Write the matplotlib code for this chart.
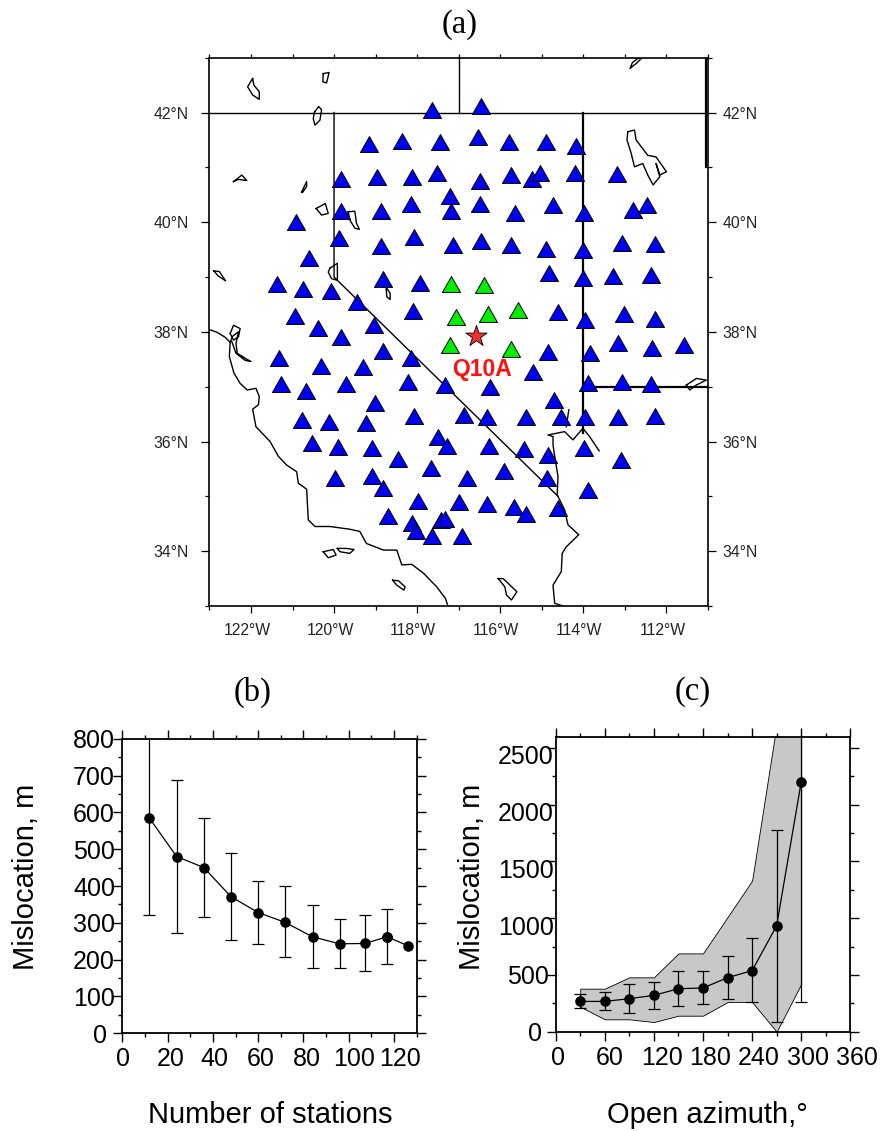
import matplotlib
matplotlib.use("Agg")
import matplotlib.pyplot as plt
from matplotlib.transforms import ScaledTranslation
from matplotlib.ticker import FixedLocator

plt.rcParams['font.family'] = ['Liberation Sans', 'DejaVu Sans']

# ---------- data: map ----------
blue_stations = [
 (-117.65,42.05),(-116.47,42.12),(-119.17,41.42),(-118.37,41.48),(-117.44,41.46),(-116.53,41.56),(-115.78,41.47),
 (-114.90,41.46),(-114.17,41.39),(-119.83,40.78),(-118.97,40.82),(-118.13,40.82),(-117.52,40.89),(-116.49,40.76),
 (-115.73,40.86),(-115.24,40.79),(-115.04,40.90),(-114.20,40.90),(-113.18,40.88),(-117.22,40.47),(-119.83,40.20),
 (-118.88,40.20),(-118.15,40.33),(-117.19,40.20),(-116.49,40.33),(-115.65,40.17),(-114.74,40.31),(-113.98,40.17),
 (-112.81,40.23),(-112.46,40.32),(-120.92,40.00),(-119.89,39.71),(-118.88,39.57),(-118.08,39.73),(-117.13,39.59),
 (-116.46,39.66),(-115.75,39.59),(-114.90,39.51),(-114.01,39.49),(-113.07,39.62),(-112.28,39.61),(-120.60,39.34),
 (-114.83,39.08),(-114.01,38.99),(-113.28,39.02),(-112.37,39.03),(-121.37,38.87),(-120.74,38.79),(-120.07,38.74),
 (-118.81,38.97),(-117.92,38.89),(-119.44,38.55),(-118.10,38.38),(-120.93,38.29),(-120.38,38.07),(-119.05,38.12),
 (-119.84,37.91),(-114.60,38.36),(-113.96,38.21),(-113.01,38.33),(-112.28,38.24),(-114.84,37.64),(-113.85,37.62),
 (-113.16,37.79),(-112.35,37.71),(-111.58,37.76),(-121.33,37.53),(-120.32,37.38),(-119.31,37.36),(-118.82,37.65),
 (-118.16,37.53),(-115.20,37.27),(-121.28,37.04),(-120.67,36.93),(-119.71,37.04),(-118.22,37.08),(-117.34,37.03),
 (-116.24,36.99),(-113.90,37.06),(-113.08,37.09),(-112.38,37.05),(-119.01,36.71),(-114.71,36.76),(-120.77,36.39),
 (-120.11,36.36),(-119.23,36.33),(-118.08,36.47),(-116.87,36.49),(-116.33,36.45),(-115.37,36.45),(-114.54,36.45),
 (-113.96,36.44),(-113.17,36.45),(-112.28,36.46),(-120.54,35.97),(-119.90,35.90),(-119.08,35.88),(-118.46,35.69),
 (-117.49,36.09),(-117.28,35.91),(-116.26,35.92),(-115.42,35.86),(-114.85,35.76),(-113.98,35.88),(-113.09,35.66),
 (-119.98,35.34),(-119.09,35.38),(-118.82,35.16),(-117.67,35.51),(-116.80,35.33),(-115.91,35.46),(-114.87,35.33),
 (-113.88,35.12),(-117.98,34.91),(-116.99,34.90),(-116.33,34.86),(-115.66,34.81),(-115.38,34.67),(-114.61,34.79),
 (-118.71,34.64),(-118.12,34.51),(-118.02,34.37),(-117.65,34.27),(-117.42,34.56),(-117.32,34.58),(-116.91,34.28),
]
green_stations = [(-117.18,38.87),(-116.39,38.86),(-117.07,38.27),(-116.29,38.33),(-115.57,38.39),(-117.21,37.76),(-115.73,37.68)]
event_lon, event_lat = -116.58, 37.92
event_name = "Q10A"

border_thin = [
 [(-123,42),(-111,42)],
 [(-117,43),(-117,42)],
 [(-120,42),(-120,39),(-114.61,35.0)],
]
border_thick = [
 [(-114,42),(-114,36.15)],
 [(-114,37),(-111,37)],
 [(-111.05,43),(-111.05,41)],
]
coast = [(-122.99,38.04),(-122.81,37.99),(-122.62,37.90),(-122.50,37.81),(-122.52,37.55),(-122.41,37.25),(-122.26,37.06),
 (-122.09,36.94),(-121.88,36.97),(-121.80,36.82),(-121.82,36.67),(-121.96,36.59),(-121.88,36.27),(-121.54,36.00),
 (-121.34,35.73),(-121.14,35.57),(-120.90,35.45),(-120.86,35.24),(-120.66,35.13),(-120.62,34.57),(-120.46,34.45),
 (-120.10,34.45),(-119.62,34.40),(-119.38,34.36),(-119.22,34.14),(-118.81,34.02),(-118.49,34.02),(-118.37,33.75),
 (-118.13,33.76),(-117.85,33.60),(-117.53,33.35),(-117.32,33.14),(-117.26,33.00)]
bay = [(-122.50,37.81),(-122.44,37.92),(-122.30,38.00),(-122.36,37.79),(-122.33,37.61),(-122.10,37.50),(-122.00,37.46),
 (-122.14,37.48),(-122.36,37.61),(-122.46,37.82)]
river = [(-114.49,33.00),(-114.69,33.05),(-114.73,33.38),(-114.53,33.63),(-114.51,33.96),(-114.41,34.08),(-114.11,34.30),
 (-114.37,34.48),(-114.45,34.75),(-114.63,35.03),(-114.61,35.36),(-114.69,35.73),(-114.73,35.94),(-114.73,36.09),
 (-114.85,36.12),(-114.45,36.18),(-114.25,36.03),(-114.01,36.24),(-113.85,36.09),(-113.62,35.83)]
river_arm = [(-114.41,36.27),(-114.35,36.58)]
lakes = [
 [(-112.93,41.65),(-112.77,41.68),(-112.73,41.50),(-112.45,41.22),(-112.25,41.19),(-112.00,40.92),(-112.16,40.86),(-112.25,41.07),
  (-112.16,40.83),(-112.32,40.68),(-112.45,40.86),(-112.57,41.07),(-112.77,41.01),(-112.85,41.26),(-112.95,41.50),(-112.93,41.65)],
 [(-112.87,42.81),(-112.72,42.90),(-112.60,42.99),(-112.68,42.99),(-112.82,42.91),(-112.87,42.81)],
 [(-121.96,42.62),(-121.93,42.50),(-121.80,42.38),(-121.80,42.24),(-121.96,42.32),(-122.08,42.47),(-121.96,42.62)],
 [(-120.26,42.71),(-120.12,42.73),(-120.18,42.54),(-120.27,42.56),(-120.26,42.71)],
 [(-120.47,42.01),(-120.37,42.11),(-120.30,42.05),(-120.34,41.86),(-120.46,41.77),(-120.50,41.89),(-120.47,42.01)],
 [(-122.42,40.74),(-122.22,40.86),(-122.10,40.76),(-122.30,40.78),(-122.42,40.74)],
 [(-120.78,40.55),(-120.66,40.74),(-120.66,40.65),(-120.76,40.54),(-120.78,40.55)],
 [(-120.43,40.25),(-120.21,40.34),(-120.14,40.16),(-120.30,40.13),(-120.43,40.25)],
 [(-119.66,40.19),(-119.50,40.20),(-119.46,39.98),(-119.39,39.87),(-119.50,39.89),(-119.62,40.04),(-119.66,40.19)],
 [(-122.89,39.11),(-122.76,39.10),(-122.61,38.93),(-122.79,39.02),(-122.89,39.11)],
 [(-120.10,39.16),(-119.92,39.25),(-119.92,38.94),(-120.06,38.97),(-120.14,39.09),(-120.10,39.16)],
 [(-118.75,38.82),(-118.65,38.70),(-118.65,38.59),(-118.73,38.64),(-118.75,38.82)],
 [(-122.50,37.97),(-122.42,38.12),(-122.26,38.06),(-122.30,37.91),(-122.42,37.85),(-122.50,37.97)],
 [(-120.26,33.99),(-120.02,34.03),(-119.95,33.93),(-120.14,33.88),(-120.26,33.99)],
 [(-119.92,34.05),(-119.70,34.05),(-119.52,34.03),(-119.62,33.96),(-119.86,33.99),(-119.92,34.05)],
 [(-118.59,33.47),(-118.45,33.46),(-118.29,33.35),(-118.32,33.29),(-118.49,33.38),(-118.59,33.47)],
 [(-116.05,33.50),(-115.93,33.50),(-115.60,33.26),(-115.73,33.11),(-115.85,33.20),(-115.89,33.35),(-116.05,33.50)],
 [(-111.52,37.03),(-111.28,37.15),(-111.04,37.12),(-111.28,37.03),(-111.44,36.94),(-111.52,37.03)],
]
lon_major = [-122,-120,-118,-116,-114,-112]
lon_labels = ["122°W","120°W","118°W","116°W","114°W","112°W"]
lon_minor = [-123,-121,-119,-117,-115,-113,-111]
lat_major = [34,36,38,40,42]
lat_labels = ["34°N","36°N","38°N","40°N","42°N"]
lat_minor = [33,35,37,39,41,43]

# ---------- data: panel b ----------
b_x = [12,24,36,48,60,72,84,96,107,117,126]
b_y = [584,480,450,371,328,301,262,243,244,262,238]
b_hi = [850,688,586,489,413,399,348,310,320,338,238]
b_lo = [321,273,317,254,243,206,176,176,168,188,238]
b_xticks = [0,20,40,60,80,100,120]
b_yticks = [0,100,200,300,400,500,600,700,800]

# ---------- data: panel c ----------
c_x = [30,60,90,120,150,180,210,240,270,300]
c_y = [267,267,291,320,379,385,476,538,934,2200]
c_hi = [329,350,417,441,532,532,664,823,1780,3000]
c_lo = [209,188,167,200,226,241,291,258,88,261]
c_band_hi = [379,379,479,479,690,690,1010,1331,2708,3400]
c_band_lo = [220,109,109,85,141,141,261,261,0,420]
c_xticks = [0,60,120,180,240,300,360]
c_yticks = [0,500,1000,1500,2000,2500]

W, H = 881, 1131
fig = plt.figure(figsize=(W/100, H/100), dpi=100, facecolor='white')

def axes_px(l, t, r, b):
    return fig.add_axes([l/W, 1-b/H, (r-l)/W, (b-t)/H])

def shift(label, dx_px, dy_px):
    label.set_transform(label.get_transform() +
                        ScaledTranslation(dx_px/100, dy_px/100, fig.dpi_scale_trans))

SERIF = ['Liberation Serif', 'DejaVu Serif']
fig.text(460/W, 1-25/H, "(a)", family=SERIF, fontsize=23.5, ha='center', va='center')
fig.text(253/W, 1-692/H, "(b)", family=SERIF, fontsize=23.5, ha='center', va='center')
fig.text(693/W, 1-692/H, "(c)", family=SERIF, fontsize=23.5, ha='center', va='center')

# ---------- map ----------
ax = axes_px(209.4, 57.7, 708, 606)
ax.set_xlim(-123, -111); ax.set_ylim(33, 43)
for s in ax.spines.values():
    s.set_linewidth(1.2)

def poly(pts, lw, z=2):
    xs, ys = zip(*pts)
    ax.plot(xs, ys, color='black', lw=lw, zorder=z, solid_joinstyle='round')

for seg in border_thin:  poly(seg, 1.0)
for seg in border_thick: poly(seg, 1.6)
for seg in [coast, bay, river, river_arm] + lakes: poly(seg, 1.0)

tri = [(-1,-0.88),(1,-0.88),(0,0.88),(-1,-0.88)]
bx, by = zip(*blue_stations)
gx, gy = zip(*green_stations)
ax.scatter(bx, by, marker=tri, s=13.0**2, c='#0000f0', edgecolors='black', linewidths=0.7, zorder=3)
ax.scatter(gx, gy, marker=tri, s=13.0**2, c='#00f000', edgecolors='black', linewidths=0.7, zorder=3)
ax.scatter([event_lon], [event_lat], marker='*', s=16**2, c='#f03030', edgecolors='black', linewidths=0.6, zorder=4)
ax.text(-116.45, 37.32, event_name, color='#ff1010', fontsize=16.5, fontweight='bold', ha='center', va='center', zorder=5)

ax.set_xticks(lon_major, lon_labels)
ax.set_yticks(lat_major, lat_labels)
ax.xaxis.set_minor_locator(FixedLocator(lon_minor))
ax.yaxis.set_minor_locator(FixedLocator(lat_minor))
ax.tick_params(axis='x', which='major', top=True, length=5, width=0.9, labelsize=11.3, labelcolor='#222222', pad=7.5)
ax.tick_params(axis='x', which='minor', top=True, length=2.6, width=0.9)
ax.tick_params(axis='y', which='major', right=True, labelright=True, length=6, width=0.9, labelsize=11.3, labelcolor='#222222', pad=4.5)
ax.tick_params(axis='y', which='minor', right=True, length=2.6, width=0.9)
for t in ax.xaxis.get_major_ticks():
    t.tick2line.set_markersize(2.6)
    shift(t.label1, -4, 0)
for t in ax.yaxis.get_major_ticks():
    shift(t.label1, -6, 0)

# ---------- panels b and c ----------
def style_panel(a, xmaj, xmin, ymaj, ymin, xshifts, yshifts, ylab_x, xlabel, xlab_c):
    a.set_xticks(xmaj); a.set_yticks(ymaj)
    a.xaxis.set_minor_locator(FixedLocator(xmin))
    a.yaxis.set_minor_locator(FixedLocator(ymin))
    a.tick_params(axis='both', which='major', top=True, right=True, length=6.5, width=1.0, labelsize=18, pad=1)
    a.tick_params(axis='both', which='minor', top=True, right=True, length=3.2, width=1.0)
    a.tick_params(axis='x', which='major', pad=3.5)
    for s in a.spines.values():
        s.set_linewidth(1.3)
    for t, dx in zip(a.xaxis.get_major_ticks(), xshifts):
        shift(t.label1, dx, 0)
    for t, (dx, dy) in zip(a.yaxis.get_major_ticks(), yshifts):
        shift(t.label1, dx, dy)
    fig.text(ylab_x/W, 1-877/H, "Mislocation, m", fontsize=21, rotation=90, ha='center', va='center')
    fig.text(xlab_c/W, 1-1115/H, xlabel, fontsize=21, ha='center', va='center')

def draw_err(a, x, y, hi, lo):
    a.errorbar(x, y, yerr=[[v-l for v, l in zip(y, lo)], [h-v for v, h in zip(y, hi)]],
               color='black', lw=0.9, elinewidth=0.9, capsize=4, capthick=0.9,
               marker='o', ms=6.6, mfc='black', mec='black', zorder=4)

axb = axes_px(122.3, 738.7, 416.7, 1033.3)
axb.set_xlim(0, 130); axb.set_ylim(0, 800)
draw_err(axb, b_x[:-1], b_y[:-1], b_hi[:-1], b_lo[:-1])
axb.plot(b_x[-2:], b_y[-2:], color='black', lw=0.9, marker='o', ms=6.6, zorder=4)
style_panel(axb, b_xticks, [10,30,50,70,90,110,130], b_yticks, [v+50 for v in b_yticks[:-1]],
            [1,3,1,3,3,5,6], [(-5,0)] + [(3,0)]*8, 26, "Number of stations", 270.5)

axc = axes_px(555.7, 737.3, 850.3, 1031.7)
axc.set_xlim(0, 360); axc.set_ylim(0, 2594)
axc.fill_between(c_x, c_band_lo, c_band_hi, facecolor='#c8c8c8', edgecolor='black', linewidth=0.6, zorder=2)
draw_err(axc, c_x, c_y, c_hi, c_lo)
style_panel(axc, c_xticks, [30,90,150,210,270,330], c_yticks, [250,750,1250,1750,2250],
            [2.6,4.7,8.4,6.6,6.6,7,6.7],
            [(-3,0),(4,0),(8.5,-7),(8.5,-7),(8.5,-7),(8.5,-7)], 472, "Open azimuth,°", 707)

fig.savefig("out.png", dpi=100)
